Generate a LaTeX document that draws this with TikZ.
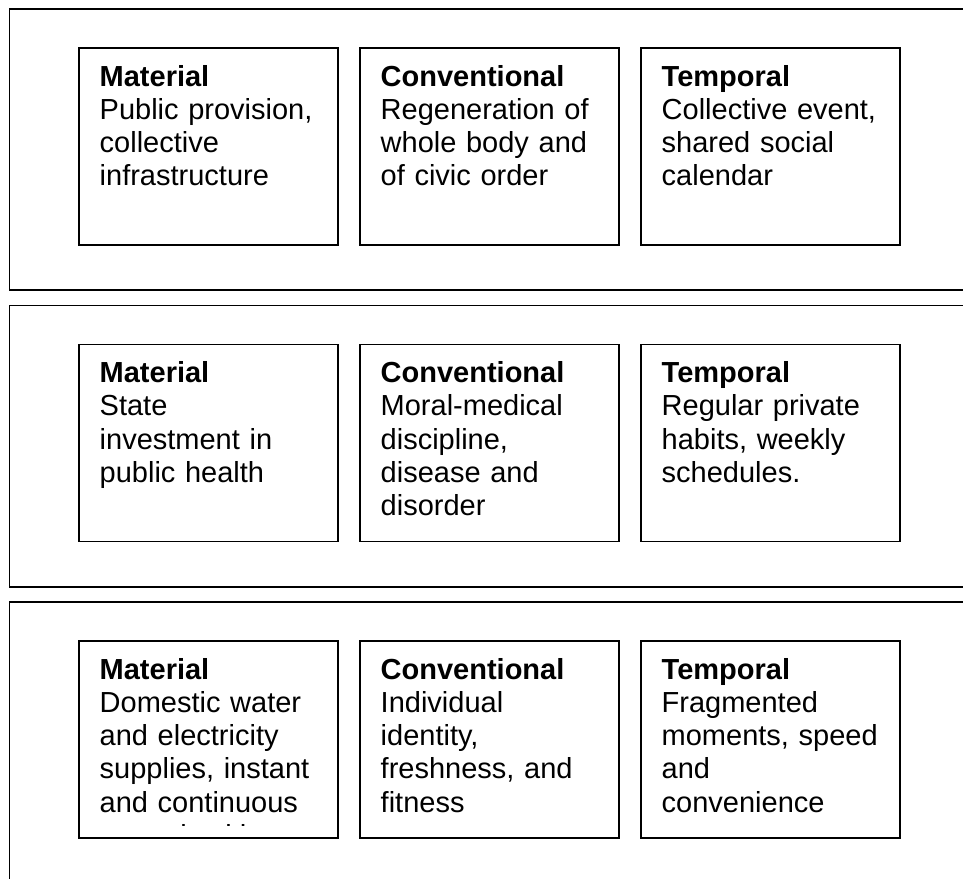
\documentclass[tikz,border=0pt]{standalone}
\usepackage{fontspec}
\setmainfont{Liberation Sans}
\begin{document}
\begin{tikzpicture}[x=1pt,y=-1pt,
  panel/.style={draw=black,line width=1.6pt},
  cardbox/.style={draw=black,line width=1.6pt,anchor=north west,inner sep=0pt,
    minimum width=259pt,minimum height=197pt},
  cardtext/.style={anchor=north west,inner sep=0pt,text width=225pt,align=left,
    font=\fontsize{29pt}{33.2pt}\selectfont}]
% page area
\clip (0,0) rectangle (963,878);
% three horizontal bands, open to the right (and the last one to the bottom)
\draw[panel] (990,9) -- (9.5,9) -- (9.5,290) -- (990,290);
\draw[panel] (990,305.5) -- (9.5,305.5) -- (9.5,587) -- (990,587);
\draw[panel] (990,602) -- (9.5,602) -- (9.5,900);
% one card: name, left x, top y, heading, body lines
\newcommand\cardcell[5]{%
  \node[cardbox] (#1) at (#2,#3) {};
  \node[cardtext] (#1t) at (#2+21.5,#3+17) {\rule{0pt}{22pt}\textbf{#4}\\#5};
}
% first band
\cardcell{ma}{78}{47}{Material}{Public provision,\\collective\\infrastructure}
\cardcell{ca}{359}{47}{Conventional}{Regeneration of\\whole body and\\of civic order}
\cardcell{ta}{640}{47}{Temporal}{Collective event,\\shared social\\calendar}
% second band
\cardcell{mb}{78}{343.5}{Material}{State\\investment in\\public health}
\cardcell{cb}{359}{343.5}{Conventional}{Moral-medical\\discipline,\\disease and\\disorder}
\cardcell{tb}{640}{343.5}{Temporal}{Regular private\\habits, weekly\\schedules.}
% third band; the first card's text runs past its frame and is cut off
\node[cardbox] (mc) at (78,640) {};
\begin{scope}
  \clip (78,640) rectangle (337,825.2);
  \node[cardtext] (mct) at (99.5,657) {\rule{0pt}{22pt}\textbf{Material}\\Domestic water\\and electricity\\supplies, instant\\and continuous\\control, with};
\end{scope}
\cardcell{cc}{359}{640}{Conventional}{Individual\\identity,\\freshness, and\\fitness}
\cardcell{tc}{640}{640}{Temporal}{Fragmented\\moments, speed\\and\\convenience}
\end{tikzpicture}
\end{document}
